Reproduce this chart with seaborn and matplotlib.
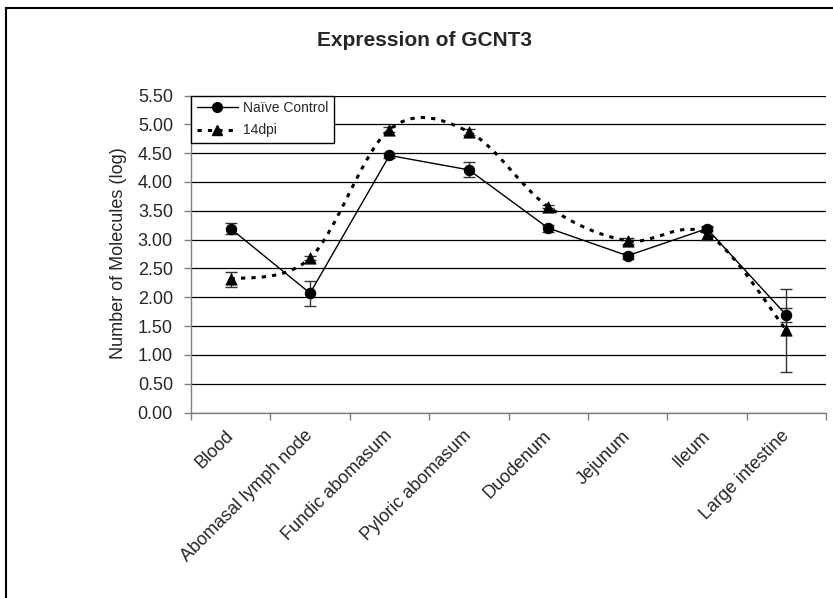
import numpy as np
import pandas as pd
import seaborn as sns
import matplotlib
matplotlib.use("Agg")
import matplotlib.pyplot as plt
from matplotlib.path import Path
from matplotlib.patches import PathPatch, Rectangle
from matplotlib.lines import Line2D
from matplotlib.transforms import ScaledTranslation

# Data
tissues = ["Blood", "Abomasal lymph node", "Fundic abomasum", "Pyloric abomasum",
           "Duodenum", "Jejunum", "Ileum", "Large intestine"]
naive_control = [3.19, 2.07, 4.46, 4.21, 3.20, 2.72, 3.19, 1.69]
naive_err = [0.09, 0.22, 0.04, 0.13, 0.06, 0.05, 0.04, 0.12]
dpi14 = [2.31, 2.68, 4.91, 4.87, 3.57, 2.98, 3.10, 1.43]
dpi14_err = [0.13, 0.04, 0.04, 0.05, 0.03, 0.05, 0.11, 0.72]
y_ticks = [0, 0.5, 1, 1.5, 2, 2.5, 3, 3.5, 4, 4.5, 5, 5.5]

df = pd.DataFrame({"tissue": tissues, "pos": np.arange(len(tissues)),
                   "control": naive_control, "control_err": naive_err,
                   "dpi14": dpi14, "dpi14_err": dpi14_err})

sns.set_style("white")
plt.rcParams["font.family"] = ["Liberation Sans", "DejaVu Sans"]

fig = plt.figure(figsize=(8.33, 5.98), dpi=100)
ax = fig.add_axes([0.2293, 0.3102, 0.7623, 0.5301])

# Smoothed dotted line for 14dpi (Excel-style bezier smoothing)
pts = df[["pos", "dpi14"]].to_numpy()
verts = [tuple(pts[0])]
codes = [Path.MOVETO]
n = len(pts)
for i in range(n - 1):
    p_prev = pts[i - 1] if i > 0 else pts[i]
    p_next2 = pts[i + 2] if i + 2 < n else pts[i + 1]
    c1 = pts[i] + (pts[i + 1] - p_prev) / 6.0
    c2 = pts[i + 1] - (p_next2 - pts[i]) / 6.0
    verts += [tuple(c1), tuple(c2), tuple(pts[i + 1])]
    codes += [Path.CURVE4] * 3
ax.add_patch(PathPatch(Path(verts, codes), facecolor="none", edgecolor="black",
                       lw=2.2, linestyle=(0, (1.4, 2.0)), zorder=3))

# Error bars
ax.errorbar(df["pos"], df["control"], yerr=df["control_err"], fmt="none",
            ecolor="#333333", elinewidth=1, capsize=4, capthick=1, zorder=2)
ax.errorbar(df["pos"], df["dpi14"], yerr=df["dpi14_err"], fmt="none",
            ecolor="#333333", elinewidth=1, capsize=4, capthick=1, zorder=2)

# Naive control: solid line with circles
sns.lineplot(data=df, x="pos", y="control", ax=ax, color="black", lw=1,
             marker="o", markersize=7.5, markeredgecolor="black", zorder=4)
# 14dpi markers
sns.scatterplot(data=df, x="pos", y="dpi14", ax=ax, color="black", marker="^",
                s=65, edgecolor="black", zorder=5)

ax.set_xlim(-0.5, len(tissues) - 0.5)
ax.set_ylim(0, 5.5)
ax.set_yticks(y_ticks)
ax.set_yticklabels([f"{v:.2f}" for v in y_ticks], fontsize=13)
ax.yaxis.grid(True, color="black", lw=0.9)
ax.set_axisbelow(True)

ax.set_xticks(df["pos"])
ax.set_xticklabels(tissues, rotation=45, ha="right", va="center",
                   rotation_mode="anchor", fontsize=13)
shift = ScaledTranslation(-7 / 100, 0, fig.dpi_scale_trans)
for lab in ax.get_xticklabels():
    lab.set_transform(lab.get_transform() + shift)
ax.set_xticks(np.arange(len(tissues) + 1) - 0.5, minor=True)
ax.tick_params(axis="x", which="major", length=0, pad=15)
ax.tick_params(axis="x", which="minor", length=5, width=1, color="#808080",
               direction="out", bottom=True)
ax.tick_params(axis="y", length=5, width=1, color="#808080", direction="out",
               left=True, pad=8)
ax.set_xlabel("")
ax.set_ylabel("")

for side in ["top", "right"]:
    ax.spines[side].set_visible(False)
for side in ["left", "bottom"]:
    ax.spines[side].set_color("#808080")
    ax.spines[side].set_linewidth(1)

fig.text(0.142, 0.576, "Number of Molecules (log)", rotation=90,
         ha="center", va="center", fontsize=13)
fig.text(0.51, 0.933, "Expression of GCNT3", ha="center", va="center",
         fontsize=15, fontweight="bold")

handles = [
    Line2D([], [], color="black", lw=1, marker="o", markersize=7),
    Line2D([], [], color="black", lw=2.2, linestyle=(0, (1.4, 2.0)),
           marker="^", markersize=7),
]
leg = ax.legend(handles, ["Naïve Control", "14dpi"], loc="upper left",
                bbox_to_anchor=(0.0, 1.0), borderaxespad=0, fontsize=10,
                frameon=True, fancybox=False, framealpha=1, edgecolor="black",
                handlelength=3.0, handletextpad=0.35, labelspacing=0.6,
                borderpad=0.4)
leg.get_frame().set_linewidth(1)
leg.set_zorder(10)

fig.patches.append(Rectangle((0.007, -0.1), 1.5, 1.0866, transform=fig.transFigure,
                             fill=False, edgecolor="black", lw=1.5))

plt.savefig("out.png", dpi=100)
